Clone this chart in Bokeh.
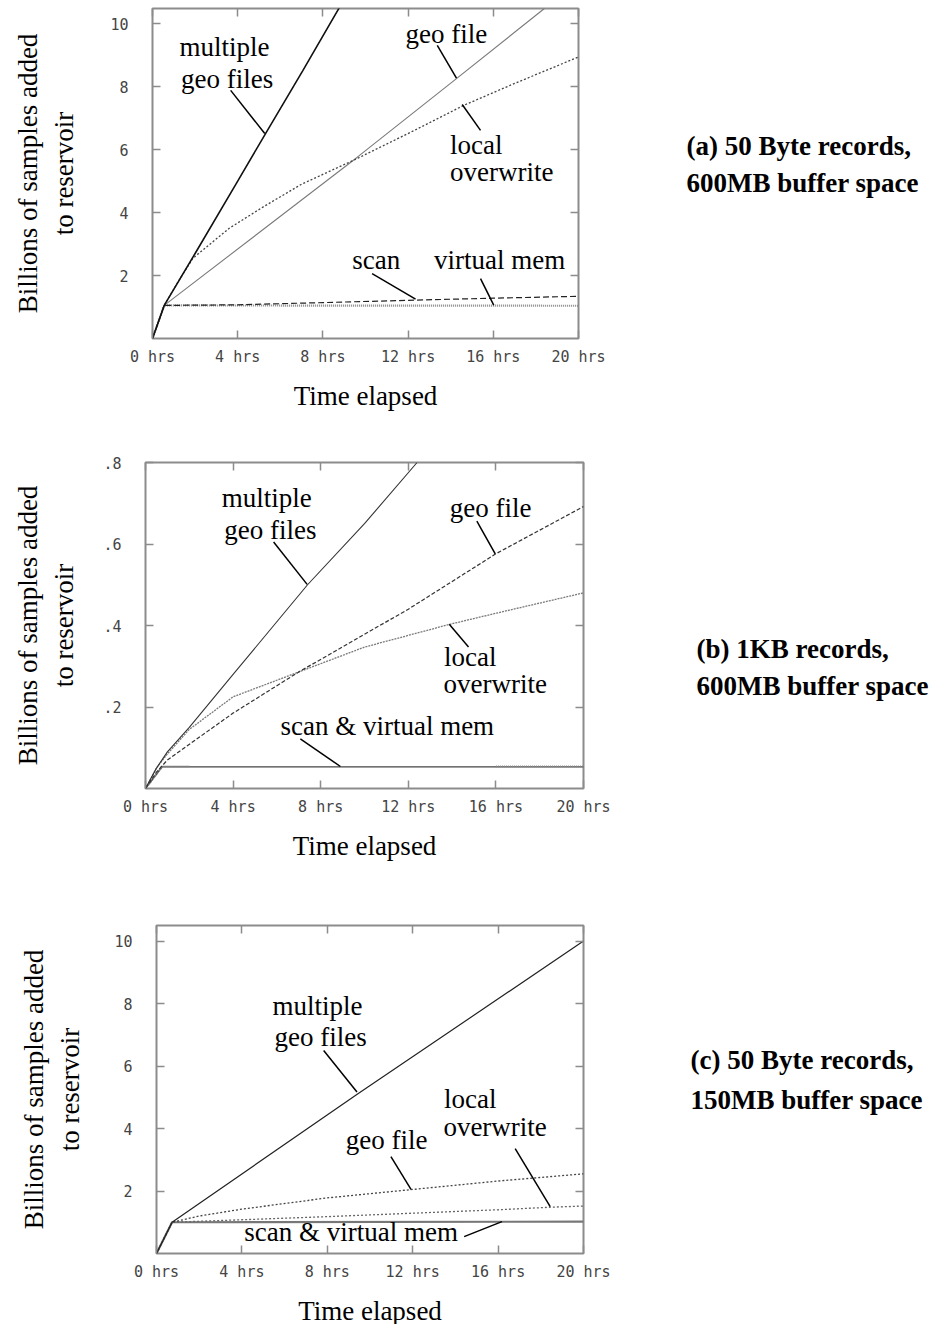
from bokeh.plotting import figure
from bokeh.layouts import column, row
from bokeh.models import LinearAxis, FixedTicker, Range1d, CustomLabelingPolicy
from bokeh.core.properties import value
from bokeh.embed import file_html
from bokeh.resources import INLINE

# ---------------- data ----------------
x_ticks = [0, 4, 8, 12, 16, 20]
x_tick_labels = ["0 hrs", "4 hrs", "8 hrs", "12 hrs", "16 hrs", "20 hrs"]
y_ticks_ac = [2, 4, 6, 8, 10]
y_tick_labels_ac = ["2", "4", "6", "8", "10"]
y_ticks_b = [0.2, 0.4, 0.6, 0.8]
y_tick_labels_b = [".2", ".4", ".6", ".8"]

# (a) 50 Byte records, 600MB buffer
a_multi_x = [0, 0.55, 2, 4, 5.3, 7.05, 8.85]
a_multi_y = [0, 1.05, 2.7, 5.0, 6.5, 8.5, 10.6]
a_geo_x = [0, 0.55, 9.6, 14.3, 18.4]
a_geo_y = [0, 1.05, 5.75, 8.27, 10.48]
a_local_x = [0, 0.55, 1.2, 1.9, 3.6, 5.2, 7.0, 9.5, 12.3, 14.6, 17.0, 20.0]
a_local_y = [0, 1.05, 1.8, 2.55, 3.5, 4.18, 4.9, 5.68, 6.61, 7.4, 8.1, 8.94]
a_scan_x = [0, 0.55, 4, 8, 12.4, 16, 20]
a_scan_y = [0, 1.05, 1.07, 1.14, 1.22, 1.28, 1.34]
a_vmem_x = [0, 0.55, 20]
a_vmem_y = [0, 1.05, 1.04]

# (b) 1KB records, 600MB buffer
b_multi_x = [0, 0.5, 1, 2, 4, 7.4, 10, 12.4]
b_multi_y = [0, 0.05, 0.09, 0.15, 0.28, 0.50, 0.65, 0.80]
b_geo_x = [0, 0.5, 1, 4, 7, 12, 16, 20]
b_geo_y = [0, 0.04, 0.07, 0.185, 0.286, 0.44, 0.576, 0.692]
b_local_x = [0, 0.5, 1, 2, 4, 7, 10, 13.9, 16, 20]
b_local_y = [0, 0.05, 0.085, 0.145, 0.225, 0.286, 0.347, 0.403, 0.43, 0.48]
b_scan_x = [0, 0.76, 20]
b_scan_y = [0, 0.053, 0.053]
b_vmem_x = [0, 0.76, 2.0]
b_vmem_y = [0, 0.054, 0.054]
b_vmem2_x = [16, 20]
b_vmem2_y = [0.054, 0.054]

# (c) 50 Byte records, 150MB buffer
c_multi_x = [0, 0.73, 9.4, 20]
c_multi_y = [0, 1.0, 5.1, 10.0]
c_geo_x = [0, 0.73, 2, 4, 8, 12, 16, 20]
c_geo_y = [0, 1.0, 1.2, 1.42, 1.78, 2.05, 2.32, 2.55]
c_local_x = [0, 0.73, 4, 8, 12, 16, 18.4, 20]
c_local_y = [0, 1.0, 1.08, 1.18, 1.29, 1.4, 1.48, 1.52]
c_scan_x = [0, 0.73, 20]
c_scan_y = [0, 1.0, 1.02]

# annotations (text, x, y) and leader lines
a_lab_text = ["multiple", "geo files", "geo file", "local", "overwrite", "scan", "virtual mem"]
a_lab_x = [3.38, 3.5, 13.8, 15.2, 16.4, 10.5, 16.3]
a_lab_y = [9.25, 8.25, 9.68, 6.16, 5.29, 2.48, 2.48]
a_lead = [(3.67, 7.88, 5.27, 6.51), (13.37, 9.31, 14.27, 8.27), (15.4, 6.61, 14.54, 7.43),
          (10.31, 2.06, 12.35, 1.25), (15.4, 1.9, 16.02, 1.06)]

b_lab_text = ["multiple", "geo files", "geo file", "local", "overwrite", "scan & virtual mem"]
b_lab_x = [5.54, 5.7, 15.76, 14.83, 15.97, 11.04]
b_lab_y = [0.713, 0.635, 0.688, 0.323, 0.257, 0.153]
b_lead = [(5.85, 0.605, 7.38, 0.501), (15.13, 0.656, 15.97, 0.576), (14.75, 0.347, 13.87, 0.403),
          (7.07, 0.122, 8.9, 0.054)]

c_lab_text = ["multiple", "geo files", "local", "overwrite", "geo file", "scan & virtual mem"]
c_lab_x = [7.54, 7.69, 14.7, 15.86, 10.78, 9.12]
c_lab_y = [7.92, 6.93, 4.96, 4.05, 3.63, 0.7]
c_lead = [(7.83, 6.5, 9.39, 5.17), (16.8, 3.36, 18.44, 1.5), (10.98, 3.1, 11.92, 2.05),
          (14.41, 0.54, 16.18, 1.02)]

captions = [["(a) 50 Byte records,", "600MB buffer space"],
            ["(b) 1KB records,", "600MB buffer space"],
            ["(c) 50 Byte records,", "150MB buffer space"]]

SERIF = "Liberation Serif"
MONO = "DejaVu Sans Mono"
FRAME = "#8c8c8c"
RIGHT_PAD = 45


def make_panel(ymax, yt, ytl, left, fw, fh, top, bottom, ylab_standoff):
    p = figure(width=left + fw + RIGHT_PAD, height=top + fh + bottom,
               frame_width=fw, frame_height=fh,
               x_range=Range1d(0, 20), y_range=Range1d(0, ymax),
               output_backend="svg", toolbar_location=None,
               min_border_left=left, min_border_right=RIGHT_PAD,
               min_border_top=top, min_border_bottom=bottom)
    p.xgrid.visible = False
    p.ygrid.visible = False
    p.outline_line_color = FRAME
    p.outline_line_width = 2
    p.background_fill_color = "white"
    p.border_fill_color = "white"

    xa = p.xaxis[0]
    xa.ticker = FixedTicker(ticks=x_ticks)
    xa.major_label_overrides = {t: l for t, l in zip(x_ticks, x_tick_labels)}
    ya = p.yaxis[0]
    ya.ticker = FixedTicker(ticks=yt)
    ya.major_label_overrides = {t: l for t, l in zip(yt, ytl)}
    for ax in (xa, ya):
        ax.axis_line_color = None
        ax.major_tick_in = 8
        ax.major_tick_out = 0
        ax.major_tick_line_color = FRAME
        ax.major_tick_line_width = 1.5
        ax.minor_tick_line_color = None
        ax.major_label_text_font = MONO
        ax.major_label_text_font_size = "15px"
        ax.major_label_text_color = "#444444"
        ax.axis_label_text_font = SERIF
        ax.axis_label_text_font_size = "27px"
        ax.axis_label_text_font_style = "normal"
        ax.axis_label_text_color = "black"
    xa.major_label_standoff = 9
    xa.axis_label = "Time elapsed"
    xa.axis_label_standoff = 12
    ya.major_label_standoff = 24
    ya.axis_label = "Billions of samples added\nto reservoir"
    ya.axis_label_standoff = ylab_standoff
    ya.axis_label_text_line_height = 1.2

    for loc, tk in (("above", x_ticks), ("right", yt)):
        ax = LinearAxis(ticker=FixedTicker(ticks=tk), axis_line_color=None,
                        major_tick_in=8, major_tick_out=0, major_tick_line_color=FRAME,
                        major_tick_line_width=1.5, minor_tick_line_color=None,
                        major_label_text_font_size="0px", major_label_standoff=0,
                        major_label_policy=CustomLabelingPolicy(code="return new Set()"))
        p.add_layout(ax, loc)
    return p


def add_labels(p, texts, xs, ys, leads):
    p.text(x=xs, y=ys, text=texts, text_font=value(SERIF), text_font_size="27px",
           text_align="center", text_baseline="middle", text_color="black")
    p.segment(x0=[l[0] for l in leads], y0=[l[1] for l in leads],
              x1=[l[2] for l in leads], y1=[l[3] for l in leads],
              line_color="black", line_width=1.5)


def caption_fig(lines, width, height, x_px, y1_from_top, y2_from_top):
    c = figure(width=width, height=height, frame_width=width, frame_height=height,
               x_range=Range1d(0, width), y_range=Range1d(0, height),
               x_axis_type=None, y_axis_type=None,
               output_backend="svg", toolbar_location=None,
               min_border_left=0, min_border_right=0, min_border_top=0, min_border_bottom=0)
    c.grid.visible = False
    c.outline_line_color = None
    c.text(x=[x_px, x_px], y=[height - y1_from_top, height - y2_from_top], text=lines,
           text_font=value(SERIF), text_font_size="27px", text_font_style="bold",
           text_align="left", text_baseline="middle", text_color="black")
    return c


# ---- panel (a)
HA = 8 + 330 + 112
pa = make_panel(10.48, y_ticks_ac, y_tick_labels_ac, 152, 426, 330, 8, 112, 28)
pa.line(a_vmem_x, a_vmem_y, line_color="#888888", line_width=2.2, line_dash="1 1")
pa.line(a_scan_x, a_scan_y, line_color="#222222", line_width=1.2, line_dash="6 3")
pa.line(a_geo_x, a_geo_y, line_color="#7a7a7a", line_width=1.1)
pa.line(a_local_x, a_local_y, line_color="#444444", line_width=1.3, line_dash="2 2")
pa.line(a_multi_x, a_multi_y, line_color="#111111", line_width=1.6)
add_labels(pa, a_lab_text, a_lab_x, a_lab_y, a_lead)
wa = 152 + 426 + RIGHT_PAD
ca = caption_fig(captions[0], 943 - wa, HA, 686 - wa, 137, 174)

# ---- panel (b)
HB = 12 + 326 + 127
pb = make_panel(0.8, y_ticks_b, y_tick_labels_b, 145, 438, 326, 12, 127, 21)
pb.line(b_scan_x, b_scan_y, line_color="#444444", line_width=1.4)
pb.line(b_vmem_x, b_vmem_y, line_color="#888888", line_width=2.2, line_dash="1 1")
pb.line(b_vmem2_x, b_vmem2_y, line_color="#888888", line_width=2.2, line_dash="1 1")
pb.line(b_local_x, b_local_y, line_color="#7a7a7a", line_width=1.3, line_dash="2 1")
pb.line(b_geo_x, b_geo_y, line_color="#333333", line_width=1.2, line_dash="4 2")
pb.line(b_multi_x, b_multi_y, line_color="#333333", line_width=1.1)
add_labels(pb, b_lab_text, b_lab_x, b_lab_y, b_lead)
wb = 145 + 438 + RIGHT_PAD
cb = caption_fig(captions[1], 943 - wb, HB, 696 - wb, 648 - 450 - 12, 685 - 450 - 12)

# ---- panel (c)
HC = 10 + 328 + 71
pc = make_panel(10.5, y_ticks_ac, y_tick_labels_ac, 156, 427, 328, 10, 71, 26)
pc.line(c_scan_x, c_scan_y, line_color="#777777", line_width=2.2)
pc.line(c_local_x, c_local_y, line_color="#666666", line_width=1.3, line_dash="2 2")
pc.line(c_geo_x, c_geo_y, line_color="#444444", line_width=1.3, line_dash="2 2")
pc.line(c_multi_x, c_multi_y, line_color="#222222", line_width=1.2)
add_labels(pc, c_lab_text, c_lab_x, c_lab_y, c_lead)
wc = 156 + 427 + RIGHT_PAD
cc = caption_fig(captions[2], 943 - wc, HC, 690 - wc, 1060 - 915 - 11, 1100 - 915 - 11)

layout = column(row(pa, ca, spacing=0), row(pb, cb, spacing=0), row(pc, cc, spacing=0), spacing=0)
open("out.html", "w").write(file_html(layout, INLINE))
